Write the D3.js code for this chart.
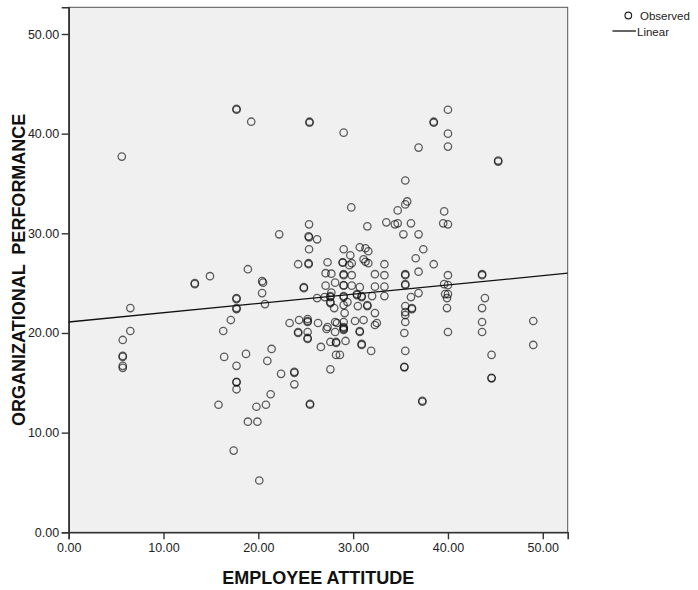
<!DOCTYPE html>
<html><head><meta charset="utf-8">
<script src="https://cdn.jsdelivr.net/npm/d3@7"></script>
<style>body{margin:0;background:#fff;} svg{display:block;font-family:Arial,"Liberation Sans",sans-serif;}</style>
</head><body><svg id="c" width="698" height="590"></svg>
<script>
// Employee attitude (x) and organizational performance (y)
const attitude = [5.6,17.7,17.7,19.25,25.4,25.4,29.0,38.5,38.5,40.0,40.0,40.0,36.9,45.3,45.3,
35.5,35.7,35.5,34.7,34.4,34.7,36.1,35.3,36.9,37.4,39.6,39.5,40.0,36.6,38.5,36.9,29.8,31.5,33.5,30.7,31.3,31.6,29.7,31.1,31.3,31.6,29.85,33.3,29.85,32.3,33.3,35.5,35.5,40.0,29.85,30.7,32.3,33.3,35.5,35.5,39.6,40.0,30.4,30.4,30.9,30.9,32.0,33.3,36.9,36.1,39.7,40.0,39.9,29.4,30.5,31.5,31.5,35.5,36.2,36.2,35.5,35.5,35.5,32.3,31.1,30.2,32.5,39.9,32.3,29.0,29.0,30.7,30.7,29.2,30.9,30.9,31.9,28.6,35.4,35.5,35.4,35.4,37.3,37.3,40.0,43.6,43.6,44.6,44.6,44.6,49.0,49.0,43.6,43.6,43.9,43.6,
25.35,22.2,25.35,25.3,26.2,25.35,29.0,24.2,25.3,25.3,27.3,28.9,28.9,29.6,18.9,20.4,20.5,27.1,27.7,29.0,29.0,20.4,24.8,24.8,28.1,27.1,29.0,29.0,27.7,17.7,17.7,20.7,26.2,27.0,27.6,27.6,27.6,27.6,28.0,29.0,29.0,29.0,29.1,17.1,23.3,24.3,25.2,25.2,25.2,26.3,28.1,27.3,29.0,29.0,29.0,24.2,24.2,25.2,25.2,25.2,27.2,26.6,28.1,27.6,28.2,28.2,28.2,27.6,28.3,13.3,13.3,14.9,17.7,17.7,16.3,16.4,17.7,18.7,17.7,17.7,17.7,15.8,19.8,18.9,19.9,17.4,20.1,21.4,20.95,22.4,23.8,23.8,23.8,20.8,21.3,25.45,25.45,
6.5,6.5,5.7,5.7,5.7,5.7,5.7];
const performance = [37.7,42.4,42.5,41.2,41.2,41.1,40.1,41.2,41.1,42.4,40.0,38.7,38.6,37.3,37.2,
35.3,33.2,32.9,32.3,30.9,31.0,31.0,29.9,29.9,28.4,32.2,31.0,30.9,27.5,26.9,26.15,32.6,30.7,31.1,28.6,28.5,28.2,27.8,27.4,27.15,27.0,27.0,26.9,25.8,25.9,25.8,25.9,25.8,25.8,24.75,24.6,24.65,24.65,24.8,24.9,24.9,24.8,23.8,23.9,23.7,23.6,23.7,23.7,24.0,23.6,23.9,23.9,23.5,23.1,22.7,22.7,22.8,22.7,22.4,22.5,22.1,21.8,21.1,22.0,21.3,21.2,21.0,22.5,20.8,20.3,20.4,20.1,20.2,19.2,18.8,18.9,18.2,17.8,20.0,18.2,16.55,16.6,13.1,13.2,20.1,21.1,20.1,17.8,15.45,15.5,21.2,18.8,25.8,25.9,23.5,22.5,
30.9,29.9,29.6,29.7,29.4,28.4,28.4,26.9,26.9,27.0,27.1,27.05,27.1,26.8,26.4,25.2,25.05,26.0,25.95,25.8,25.9,24.0,24.6,24.5,25.05,24.75,24.75,24.8,24.05,23.5,22.5,22.9,23.5,23.6,23.6,23.7,23.0,23.1,22.5,23.6,23.7,22.8,22.0,21.3,21.0,21.3,21.4,21.1,21.2,21.0,21.1,20.6,21.1,20.5,20.6,20.0,20.1,20.1,19.4,19.5,20.4,18.6,20.1,19.1,19.0,19.1,17.8,16.35,21.0,24.9,25.0,25.7,23.4,22.4,20.2,17.6,16.7,17.9,15.05,15.1,14.35,12.8,12.6,11.1,11.1,8.2,5.2,18.4,17.2,15.9,16.0,16.1,14.85,12.8,13.85,12.8,12.9,
22.5,20.2,19.3,17.7,17.6,16.7,16.5];
// Linear fit line endpoints
const fitX = [0, 52.63];
const fitY = [21.1, 26.0];
const xTicks = [0,10,20,30,40,50];
const yTicks = [0,10,20,30,40,50];
const legendItems = ["Observed","Linear"];

const svg = d3.select("#c");
const L = 68.7, R = 567.7, T = 7.3, B = 532.3;
const x = d3.scaleLinear().domain([0, 52.63]).range([L, R]);
const y = d3.scaleLinear().domain([0, 52.68]).range([B, T]);

svg.append("rect").attr("x",L).attr("y",T).attr("width",R-L).attr("height",B-T)
  .attr("fill","#f0f0f0").attr("stroke","#555").attr("stroke-width",1);

const fmt = d3.format(".2f");
const gx = svg.append("g").attr("transform",`translate(0,${B})`)
  .call(d3.axisBottom(x).tickValues(xTicks).tickFormat(fmt).tickSizeOuter(0).tickSize(7).tickPadding(4));
const gy = svg.append("g").attr("transform",`translate(${L},0)`)
  .call(d3.axisLeft(y).tickValues(yTicks).tickFormat(fmt).tickSizeOuter(0).tickSize(7).tickPadding(2.5));
[gx,gy].forEach(g=>{
  g.select(".domain").attr("stroke","#333").attr("stroke-width",1.6);
  g.selectAll(".tick line").attr("stroke","#333").attr("stroke-width",1.4);
  g.selectAll(".tick text").attr("fill","#222").style("font-size","12.5px").style("font-family","Arial,'Liberation Sans',sans-serif");
});

// points
const pts = attitude.map((a,i)=>[a, performance[i]]);
svg.append("g").selectAll("circle").data(pts).join("circle")
  .attr("cx",d=>x(d[0])).attr("cy",d=>y(d[1])).attr("r",3.7)
  .attr("fill","none").attr("stroke","#000").attr("stroke-opacity",0.62).attr("stroke-width",1.3);

// fit line
svg.append("line").attr("x1",x(fitX[0])).attr("y1",y(fitY[0])).attr("x2",x(fitX[1])).attr("y2",y(fitY[1]))
  .attr("stroke","#111").attr("stroke-width",1.3);

// axis titles
svg.append("text").attr("x",(L+R)/2).attr("y",584).attr("text-anchor","middle")
  .style("font-weight","bold").style("font-size","18px").attr("fill","#111").text("EMPLOYEE ATTITUDE");
svg.append("text").attr("transform",`translate(25,${(T+B)/2}) rotate(-90)`).attr("text-anchor","middle")
  .style("font-weight","bold").style("font-size","18px").attr("fill","#111").attr("xml:space","preserve").style("white-space","pre")
  .text("ORGANIZATIONAL  PERFORMANCE");

// legend
svg.append("circle").attr("cx",628.3).attr("cy",15.5).attr("r",3.3).attr("fill","none").attr("stroke","#222").attr("stroke-width",1.2);
svg.append("line").attr("x1",612.5).attr("x2",636).attr("y1",31).attr("y2",31).attr("stroke","#111").attr("stroke-width",1.3);
svg.append("text").attr("x",640).attr("y",20).style("font-size","11.5px").attr("fill","#222").text(legendItems[0]);
svg.append("text").attr("x",637).attr("y",35.5).style("font-size","11.5px").attr("fill","#222").text(legendItems[1]);
</script></body></html>
